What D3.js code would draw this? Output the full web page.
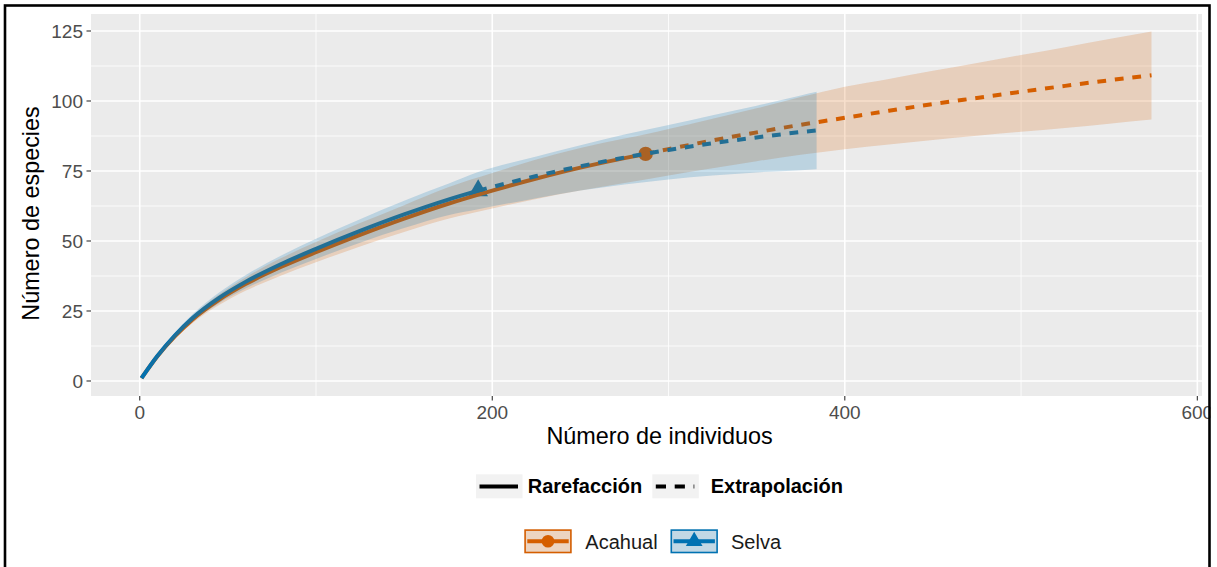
<!DOCTYPE html>
<html><head><meta charset="utf-8">
<script src="https://cdn.jsdelivr.net/npm/d3@7"></script>
<style>html,body{margin:0;padding:0;background:#fff;overflow:hidden;} svg{display:block;font-family:"Liberation Sans",Arial,Helvetica,sans-serif;}</style>
</head><body><svg id="c" width="1217" height="567"></svg>
<script>
// ---------------- data ----------------
const sites = ["Acahual", "Selva"];
const methods = ["Rarefacción", "Extrapolación"];
const siteColors = ["#D55E00", "#0072B2"];
const xTicks = [0, 200, 400, 600];
const yTicks = [0, 25, 50, 75, 100, 125];
const xTitle = "Número de individuos";
const yTitle = "Número de especies";

// Acahual (observed n = 287, S = 81.1)
const acahualRareN = [1,10,20,30,45,60,80,100,125,150,175,200,225,250,275,287];
const acahualRareS = [1,8.8,16.0,22.0,29.0,34.6,40.7,46.0,52.2,58.0,63.3,68.0,72.3,76.2,79.6,81.1];
const acahualExtN = [287,300,325,350,375,400,425,450,475,500,525,550,574];
const acahualExtS = [81.1,82.8,85.9,88.8,91.5,94.0,96.5,98.9,101.1,103.3,105.4,107.4,109.2];
const acahualBandN  = [1,10,20,30,45,60,80,100,125,150,175,200,225,250,275,287,300,325,350,375,400,425,450,475,500,525,550,574];
const acahualBandLo = [1,8.4,15.1,20.7,27.1,32.2,37.6,42.4,48.0,53.2,57.9,61.6,65.0,68.0,70.7,72.0,73.4,76.0,78.5,80.8,82.8,84.5,86.1,87.6,89.0,90.4,91.9,93.4];
const acahualBandHi = [1,9.2,16.9,23.3,30.9,37.0,43.8,49.6,56.4,62.8,69.2,74.3,79.1,83.2,86.6,88.1,90.0,93.7,97.4,101.4,105.1,107.9,110.8,113.6,116.4,119.2,122.1,124.8];

// Selva (observed n = 192, S = 68.0)
const selvaRareN = [1,10,20,30,45,60,80,100,125,150,175,192];
const selvaRareS = [1,8.9,16.3,22.5,29.7,35.4,41.7,47.2,53.6,59.5,64.8,68.0];
const selvaExtN = [192,225,250,275,300,325,350,375,384];
const selvaExtS = [68.0,73.2,76.7,79.8,82.5,84.9,87.0,88.9,89.5];
const selvaBandN  = [1,10,20,30,45,60,80,100,125,150,175,192,225,250,275,300,325,350,375,384];
const selvaBandLo = [1,8.5,15.4,21.2,27.8,33.0,38.7,43.6,49.4,54.6,59.2,61.3,65.3,68.0,70.2,72.0,73.4,74.5,75.3,75.6];
const selvaBandHi = [1,9.3,17.2,23.8,31.6,37.8,44.7,50.8,57.8,64.4,70.4,74.6,80.2,84.2,88.0,91.4,94.9,98.3,102.0,103.3];

const observedN = [287, 192];
const observedS = [81.1, 68.0];

// ---------------- layout ----------------
const svg = d3.select("#c");
const P = {l: 91, r: 1202, t: 14, b: 396};
const x = d3.scaleLinear().domain([-27.65, 602.65]).range([P.l, P.r]);
const y = d3.scaleLinear().domain([-5.36, 131.07]).range([P.b, P.t]);

svg.append("rect").attr("width",1217).attr("height",567).attr("fill","#fff");

// panel
svg.append("rect").attr("x",P.l).attr("y",P.t).attr("width",P.r-P.l).attr("height",P.b-P.t).attr("fill","#EBEBEB");
const defs = svg.append("defs");
defs.append("clipPath").attr("id","clip").append("rect").attr("x",P.l).attr("y",P.t).attr("width",P.r-P.l).attr("height",P.b-P.t);
const grid = svg.append("g");
const yMinor = d3.range(12.5, 131, 25);
const xMinor = [100, 300, 500];
yMinor.forEach(v => grid.append("line").attr("x1",P.l).attr("x2",P.r).attr("y1",y(v)).attr("y2",y(v)).attr("stroke","#fff").attr("stroke-width",0.8));
xMinor.forEach(v => grid.append("line").attr("y1",P.t).attr("y2",P.b).attr("x1",x(v)).attr("x2",x(v)).attr("stroke","#fff").attr("stroke-width",0.8));
yTicks.forEach(v => grid.append("line").attr("x1",P.l).attr("x2",P.r).attr("y1",y(v)).attr("y2",y(v)).attr("stroke","#fff").attr("stroke-width",1.6));
xTicks.forEach(v => grid.append("line").attr("y1",P.t).attr("y2",P.b).attr("x1",x(v)).attr("x2",x(v)).attr("stroke","#fff").attr("stroke-width",1.6));

const plot = svg.append("g").attr("clip-path","url(#clip)");
const line = d3.line().x(d=>x(d[0])).y(d=>y(d[1])).curve(d3.curveMonotoneX);
const area = d3.area().x(d=>x(d[0])).y0(d=>y(d[1])).y1(d=>y(d[2])).curve(d3.curveMonotoneX);
const zip2 = (a,b) => a.map((v,i)=>[v,b[i]]);
const zip3 = (a,b,c) => a.map((v,i)=>[v,b[i],c[i]]);

// points first (as in ggiNEXT), then lines, then ribbons
function triPath(s){ return `M0,${-1.555*s}L${1.347*s},${0.778*s}L${-1.347*s},${0.778*s}Z`; }
plot.append("circle").attr("cx",x(observedN[0])).attr("cy",y(observedS[0])).attr("r",7.2).attr("fill",siteColors[0]);
plot.append("path").attr("d",triPath(7.3)).attr("transform",`translate(${x(observedN[1])},${y(observedS[1])})`).attr("fill",siteColors[1]);

const lw = 4, dash = "8.8,8.8";
plot.append("path").attr("d",line(zip2(acahualRareN,acahualRareS))).attr("fill","none").attr("stroke",siteColors[0]).attr("stroke-width",lw);
plot.append("path").attr("d",line(zip2(acahualExtN,acahualExtS))).attr("fill","none").attr("stroke",siteColors[0]).attr("stroke-width",lw).attr("stroke-dasharray",dash);
plot.append("path").attr("d",line(zip2(selvaRareN,selvaRareS))).attr("fill","none").attr("stroke",siteColors[1]).attr("stroke-width",lw);
plot.append("path").attr("d",line(zip2(selvaExtN,selvaExtS))).attr("fill","none").attr("stroke",siteColors[1]).attr("stroke-width",lw).attr("stroke-dasharray",dash);

plot.append("path").attr("d",area(zip3(acahualBandN,acahualBandLo,acahualBandHi))).attr("fill",siteColors[0]).attr("fill-opacity",0.2);
plot.append("path").attr("d",area(zip3(selvaBandN,selvaBandLo,selvaBandHi))).attr("fill",siteColors[1]).attr("fill-opacity",0.2);

// axes
const ax = svg.append("g");
yTicks.forEach(v => {
  ax.append("line").attr("x1",P.l-4.5).attr("x2",P.l).attr("y1",y(v)).attr("y2",y(v)).attr("stroke","#333").attr("stroke-width",1.1);
  ax.append("text").attr("x",P.l-8).attr("y",y(v)).attr("dy","0.36em").attr("text-anchor","end")
    .attr("font-size",19).attr("fill","#4D4D4D").text(v);
});
xTicks.forEach(v => {
  ax.append("line").attr("y1",P.b).attr("y2",P.b+4.5).attr("x1",x(v)).attr("x2",x(v)).attr("stroke","#333").attr("stroke-width",1.1);
  ax.append("text").attr("x",x(v)).attr("y",418.5).attr("text-anchor","middle")
    .attr("font-size",19).attr("fill","#4D4D4D").text(v);
});
ax.append("text").attr("x",659.5).attr("y",443.5).attr("text-anchor","middle").attr("font-size",23.4).attr("fill","#000").text(xTitle);
ax.append("text").attr("transform","translate(38.5,213.5) rotate(-90)").attr("text-anchor","middle").attr("font-size",23.4).attr("fill","#000").text(yTitle);

// legend: linetype
const lg = svg.append("g");
const ltKeys = [{x:476, lab:527.7, dash:null}, {x:652.3, lab:710.7, dash:"10.2,8.7"}];
methods.forEach((m,i) => {
  const k = ltKeys[i];
  lg.append("rect").attr("x",k.x).attr("y",474.3).attr("width",46.5).attr("height",24).attr("fill","#F2F2F2");
  const l = lg.append("line").attr("x1",k.x+3.5).attr("x2",k.x+42).attr("y1",486.5).attr("y2",486.5).attr("stroke","#000").attr("stroke-width",4);
  if (k.dash) l.attr("stroke-dasharray",k.dash);
  lg.append("text").attr("x",k.lab).attr("y",492.5).attr("font-size",20).attr("font-weight","bold").attr("fill","#000").text(m);
});
// legend: sites
const siteKeys = [{x:524.3, lab:585.3}, {x:670.5, lab:731}];
sites.forEach((s,i) => {
  const k = siteKeys[i], c = siteColors[i], cy = 541.3, cx = k.x + 23.7;
  lg.append("rect").attr("x",k.x).attr("y",529.3).attr("width",47.4).attr("height",24).attr("fill","#F2F2F2");
  lg.append("rect").attr("x",k.x+0.8).attr("y",530.1).attr("width",45.8).attr("height",22.4).attr("fill",c).attr("fill-opacity",0.2).attr("stroke",c).attr("stroke-width",1.6);
  lg.append("line").attr("x1",k.x+3).attr("x2",k.x+44.4).attr("y1",cy).attr("y2",cy).attr("stroke",c).attr("stroke-width",4);
  if (i===0) lg.append("circle").attr("cx",cx).attr("cy",cy).attr("r",6.3).attr("fill",c);
  else lg.append("path").attr("d",triPath(6.2)).attr("transform",`translate(${cx},${cy})`).attr("fill",c);
  lg.append("text").attr("x",k.lab).attr("y",548.5).attr("font-size",20).attr("fill","#1a1a1a").text(s);
});

// outer frame (image crop on right)
svg.append("rect").attr("x",1210.5).attr("y",0).attr("width",10).attr("height",567).attr("fill","#fff");
svg.append("rect").attr("x",5).attr("y",5.5).attr("width",1204.5).attr("height",570).attr("fill","none").attr("stroke","#000").attr("stroke-width",2.6);
</script></body></html>
